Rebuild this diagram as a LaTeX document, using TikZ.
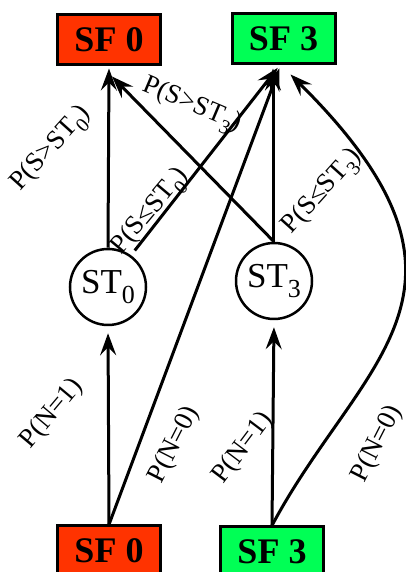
\documentclass[tikz,border=0pt]{standalone}
\usepackage{fontspec}
\setmainfont{Liberation Serif}
\usetikzlibrary{arrows.meta}
\definecolor{sfred}{RGB}{255,51,0}
\definecolor{sfgreen}{RGB}{0,255,85}
\newcommand{\lbsub}[1]{\raisebox{-0.3em}{\fontsize{20}{20}\selectfont #1}}
\newcommand{\stsub}[1]{\raisebox{-0.3em}{\fontsize{26}{26}\selectfont #1}}
\begin{document}
\begin{tikzpicture}[x=1pt,y=1pt,
  sfbox/.style={draw=black,line width=3pt,minimum width=103pt,minimum height=50pt,inner sep=0pt,font=\fontsize{36}{36}\selectfont\bfseries},
  stcirc/.style={circle,draw=black,line width=2.5pt,minimum size=76pt,inner sep=0pt,font=\fontsize{35}{35}\selectfont},
  conn/.style={line width=3pt,-{Stealth[length=22pt,width=16pt,inset=8pt]}},
  lbl/.style={font=\fontsize{27}{27}\selectfont,inner sep=0pt}]
\useasboundingbox (0,0) rectangle (406,572);
\node[sfbox,fill=sfred] (tsf0) at (109,532) {SF 0};
\node[sfbox,fill=sfgreen] (tsf3) at (283.5,533) {SF 3};
\node[sfbox,fill=sfred] (bsf0) at (109,21) {SF 0};
\node[sfbox,fill=sfgreen] (bsf3) at (272,20) {SF 3};
\node[stcirc] (st0) at (108,285) {ST\stsub{0}};
\node[stcirc] (st3) at (274,291) {ST\stsub{3}};
% connectors
\draw[conn,shorten >=7pt] (bsf0.north) -- (st0.south);
\draw[conn,shorten >=7pt] (bsf3.north) -- (st3.south);
\draw[conn,shorten >=2pt] (st0.north) -- (tsf0.south);
\draw[conn,shorten <=6pt,shorten >=3pt] (st0.54) -- ([xshift=-4pt]tsf3.south);
\draw[conn] (st3.north) -- ([xshift=3pt,yshift=-10pt]tsf0.south);
\draw[conn,shorten >=3pt] ([xshift=-1pt]st3.north) -- ([xshift=-10.5pt]tsf3.south);
\draw[conn,shorten >=3pt] (bsf0.north) -- ([xshift=-3pt]tsf3.south);
\draw[conn] (bsf3.north) .. controls (360,212) and (508,282) .. ([xshift=7pt,yshift=-9pt]tsf3.south);
% labels
\node[lbl,rotate=48] (l1) at (52,423) {P(S>ST\lbsub{0})};
\node[lbl,rotate=-23] (l2) at (192,466) {P(S>ST\lbsub{3})};
\node[lbl,rotate=50] (l3) at (151,360) {P(S≤ST\lbsub{0})};
\node[lbl,rotate=48] (l4) at (323,380) {P(S≤ST\lbsub{3})};
\node[lbl,rotate=50] (l5) at (52,158) {P(N=1)};
\node[lbl,rotate=63] (l6) at (174,127) {P(N=0)};
\node[lbl,rotate=53] (l7) at (243,124) {P(N=1)};
\node[lbl,rotate=63] (l8) at (377,128) {P(N=0)};
\end{tikzpicture}
\end{document}
